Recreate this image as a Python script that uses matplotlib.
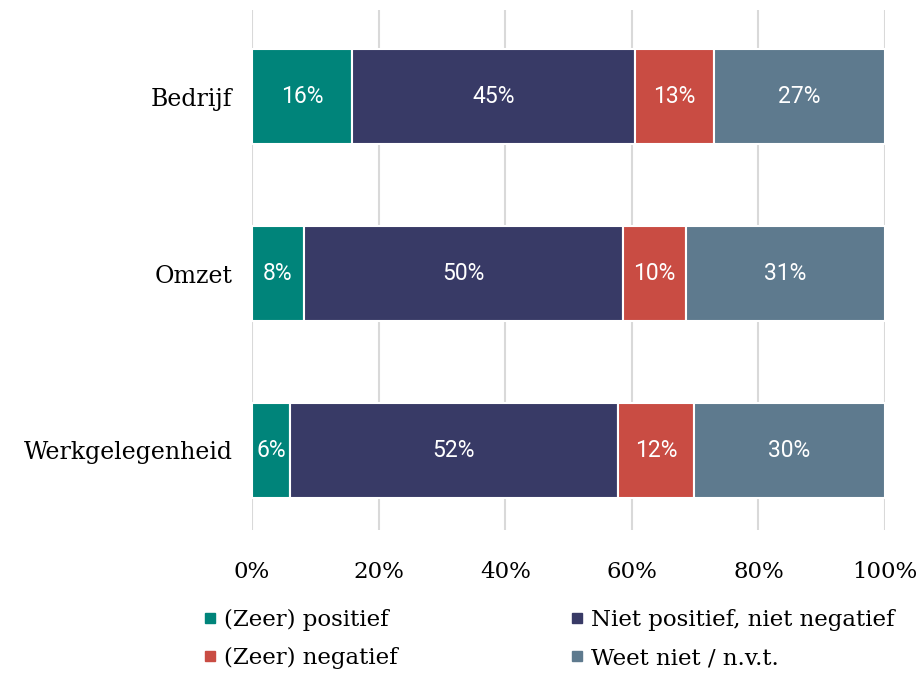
import numpy as np
import matplotlib.pyplot as plt
from matplotlib.lines import Line2D

categories = ["Bedrijf", "Omzet", "Werkgelegenheid"]
series = ["(Zeer) positief", "Niet positief, niet negatief", "(Zeer) negatief", "Weet niet / n.v.t."]
values = [
    [15.8, 8.2, 6.0],
    [44.7, 50.4, 51.8],
    [12.5, 10.0, 12.0],
    [27.0, 31.4, 30.2],
]
labels = [
    [16, 8, 6],
    [45, 50, 52],
    [13, 10, 12],
    [27, 31, 30],
]
colors = ["#00847a", "#383a66", "#c94c43", "#5e7a8e"]

serif = ["DejaVu Serif"]
sans = ["Roboto", "DejaVu Sans"]

fig = plt.figure(figsize=(9.24, 6.78), dpi=100)
ax = fig.add_axes([252 / 924, 1 - 530 / 678, 633 / 924, 520 / 678])

y = np.arange(len(categories))
left = np.zeros(len(categories))
for i, s in enumerate(series):
    ax.barh(y, values[i], left=left, height=0.535, color=colors[i],
            edgecolor="white", linewidth=1.5, zorder=3, label=s)
    for j in range(len(categories)):
        ax.text(left[j] + values[i][j] / 2, y[j], f"{labels[i][j]}%",
                ha="center", va="center", color="white", fontsize=16.5,
                family=sans, zorder=4)
    left += np.array(values[i])

ax.set_xlim(0, 100)
ax.set_ylim(2.45, -0.49)
ax.set_xticks(np.arange(0, 101, 20))
ax.set_xticklabels([f"{t}%" for t in range(0, 101, 20)], family=serif, fontsize=16.5)
ax.set_yticks(y)
ax.set_yticklabels(categories, family=serif, fontsize=17)
ax.tick_params(length=0, pad=14)
ax.tick_params(axis="x", pad=22)
ax.grid(axis="x", color="#d9d9d9", linewidth=1.5, zorder=0)
for sp in ax.spines.values():
    sp.set_visible(False)

# legend fills column-first, so reorder to get row-wise order
order = [0, 2, 1, 3]
handles = [Line2D([], [], marker="s", linestyle="none", color=colors[k], markersize=7) for k in order]
fig.legend(handles, [series[k] for k in order], loc="upper left",
           bbox_to_anchor=(203 / 924, 1 - 609 / 678),
           ncol=2, frameon=False, prop={"family": serif, "size": 16.5},
           handlelength=0.6, handletextpad=0.3, columnspacing=7.55, labelspacing=0.7,
           borderaxespad=0, borderpad=0)

fig.savefig("out.png", dpi=100)
